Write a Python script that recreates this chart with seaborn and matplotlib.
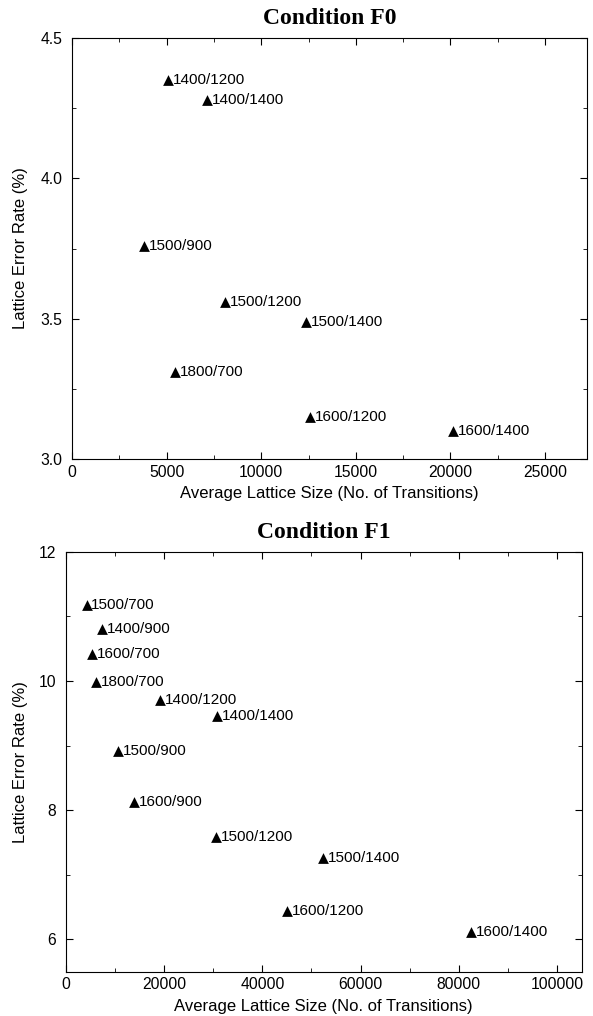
import matplotlib
matplotlib.use('Agg')
import matplotlib.pyplot as plt
import seaborn as sns
import numpy as np
import pandas as pd
from matplotlib.ticker import MultipleLocator, FormatStrFormatter

# Condition F0
f0_labels = ['1400/1200', '1400/1400', '1500/900', '1500/1200', '1500/1400',
             '1800/700', '1600/1200', '1600/1400']
f0_size = [5090, 7115, 3800, 8065, 12366, 5466, 12598, 20124]
f0_error = [4.35, 4.28, 3.76, 3.56, 3.49, 3.31, 3.15, 3.10]

# Condition F1
f1_labels = ['1500/700', '1400/900', '1600/700', '1800/700', '1400/1200', '1400/1400',
             '1500/900', '1600/900', '1500/1200', '1500/1400', '1600/1200', '1600/1400']
f1_size = [4210, 7320, 5250, 6080, 19150, 30770, 10580, 13900, 30500, 52400, 45020, 82490]
f1_error = [11.18, 10.81, 10.42, 9.98, 9.71, 9.45, 8.91, 8.12, 7.58, 7.26, 6.44, 6.11]

sns.set_style('ticks')
plt.rcParams['font.family'] = ['Liberation Sans', 'DejaVu Sans']
plt.rcParams['xtick.direction'] = 'in'
plt.rcParams['ytick.direction'] = 'in'
for k in ['text.color', 'axes.labelcolor', 'xtick.color', 'ytick.color', 'axes.edgecolor']:
    plt.rcParams[k] = 'black'

fig = plt.figure(figsize=(5.93, 10.16), dpi=100)
ax1 = fig.add_axes([0.1214, 0.5479, 0.8680, 0.4150])
ax2 = fig.add_axes([0.1110, 0.0436, 0.8700, 0.4134])


def panel(ax, sizes, errors, labels, title, xlim, ylim, xmaj, xmin, ymaj, ymin, yfmt, ylab_x):
    df = pd.DataFrame({'size': sizes, 'error': errors, 'label': labels})
    sns.scatterplot(data=df, x='size', y='error', marker='^', color='black',
                    s=60, edgecolor='black', linewidth=0, ax=ax)
    for _, r in df.iterrows():
        ax.annotate(r['label'], (r['size'], r['error']), xytext=(3.5, 0),
                    textcoords='offset points', va='center', ha='left', fontsize=11)
    ax.set_xlim(*xlim)
    ax.set_ylim(*ylim)
    ax.xaxis.set_major_locator(MultipleLocator(xmaj))
    ax.xaxis.set_minor_locator(MultipleLocator(xmin))
    ax.yaxis.set_major_locator(MultipleLocator(ymaj))
    ax.yaxis.set_minor_locator(MultipleLocator(ymin))
    ax.yaxis.set_major_formatter(FormatStrFormatter(yfmt))
    ax.tick_params(which='both', top=True, right=True, labelsize=11.3)
    ax.tick_params(which='major', length=5)
    ax.tick_params(which='minor', length=3)
    ax.tick_params(axis='x', which='major', pad=4)
    ax.tick_params(axis='y', which='major', pad=7)
    for sp in ax.spines.values():
        sp.set_linewidth(0.8)
    ax.set_title(title, fontsize=17, fontweight='bold', family='Liberation Serif', pad=9.5)
    ax.set_xlabel('Average Lattice Size (No. of Transitions)', fontsize=12, labelpad=4.5)
    ax.set_ylabel('Lattice Error Rate (%)', fontsize=12)
    ax.yaxis.set_label_coords(ylab_x, 0.5)


panel(ax1, f0_size, f0_error, f0_labels, 'Condition F0', (0, 27200), (3.0, 4.5),
      5000, 2500, 0.5, 0.25, '%.1f', -0.0855)
panel(ax2, f1_size, f1_error, f1_labels, 'Condition F1', (0, 105000), (5.5, 12),
      20000, 10000, 2, 1, '%d', -0.073)

fig.savefig('out.png', dpi=100)
